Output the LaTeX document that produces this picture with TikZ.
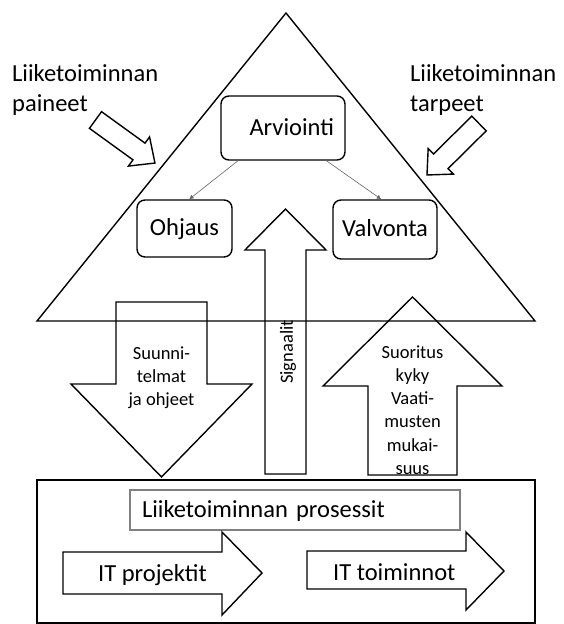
\documentclass[tikz,border=0pt]{standalone}
\usepackage{fontspec}
\setmainfont{Carlito}
\usetikzlibrary{arrows.meta}
\begin{document}
\begin{tikzpicture}[x=1pt,y=-1pt,
  outline/.style={draw=black,line width=1.4pt,line join=miter},
  bigtext/.style={font=\fontsize{24.5}{29.4}\selectfont},
  smalltext/.style={font=\fontsize{18.5}{23.2}\selectfont},
  roundbox/.style={outline,rounded corners=8pt,fill=white,bigtext,inner sep=0pt,
    text height=17pt,text depth=2.5pt},
  link/.style={draw=black!60,line width=0.6pt,-{Latex[length=4.5pt,width=4.5pt]}},
  label/.style={inner sep=0pt,text=black}]

% page
\path[use as bounding box,fill=white] (0,0) rectangle (563,624);

% side pressure arrows
\begin{scope}[shift={(95.5,120)},rotate=-35.9]
  \draw[outline] (0,-10.3) -- (53.7,-10.3) -- (53.7,-18) -- (73.4,0)
    -- (53.7,18) -- (53.7,10.3) -- (0,10.3) -- cycle;
\end{scope}
\begin{scope}[shift={(479,123.5)},rotate=-135.3]
  \draw[outline] (0,-10.3) -- (53.7,-10.3) -- (53.7,-18) -- (73.2,0)
    -- (53.7,18) -- (53.7,10.3) -- (0,10.3) -- cycle;
\end{scope}
\node[label,bigtext,align=left,anchor=west] (paineet) at (12,90) {Liiketoiminnan\\paineet};
\node[label,bigtext,align=left,anchor=west] (tarpeet) at (410,90) {Liiketoiminnan\\tarpeet};

% vertical block arrows
\draw[outline] (116,302) -- (207,302) -- (207,384) -- (252,384) -- (161.5,477)
  -- (71,384) -- (116,384) -- cycle;
\draw[outline] (265,474) -- (306,474) -- (306,250) -- (326,250) -- (285.5,209)
  -- (245,250) -- (265,250) -- cycle;
\draw[outline] (368,475) -- (457,475) -- (457,386) -- (502,386) -- (412.5,297)
  -- (323,386) -- (368,386) -- cycle;
\node[label,smalltext,align=center] (suunn) at (161.5,378) {Suunni-\\telmat\\ja ohjeet};
\node[label,smalltext,rotate=90] (signaalit) at (288,352) {Signaalit};
\node[label,smalltext,align=center] (suoritus) at (412.5,410) {Suoritus\\kyky\\Vaati-\\musten\\mukai-\\suus};

% management triangle
\draw[outline] (286,13) -- (535,321) -- (37,321) -- cycle;

% management boxes
\node[roundbox,minimum width=124pt,minimum height=64pt,text width=102pt,align=right]
  (arv) at (283,128) {Arviointi};
\node[roundbox,minimum width=95pt,minimum height=57pt] (ohj) at (184.5,228.5) {Ohjaus};
\node[roundbox,minimum width=104pt,minimum height=59pt] (val) at (385,229.5) {Valvonta};
\draw[link] (arv.216) -- (ohj.81);
\draw[link] (arv.323) -- (val.97.5);

% operational layer
\node[outline,minimum width=498pt,minimum height=143pt,inner sep=0pt] (ops) at (286,551.5) {};
\node[draw=black!50,line width=1.2pt,minimum width=330pt,minimum height=40pt,inner sep=0pt,
  text width=306pt,align=left,bigtext,text height=17pt,text depth=2.5pt]
  (proc) at (295,510) {Liiketoiminnan prosessit};
\draw[outline] (63,552) -- (222,552) -- (222,532) -- (262,573) -- (222,615)
  -- (222,594) -- (63,594) -- cycle;
\draw[outline] (307,551) -- (466,551) -- (466,532) -- (504,571) -- (466,610)
  -- (466,589) -- (307,589) -- cycle;
\node[label,bigtext,anchor=base west] (itproj) at (98,581) {IT projektit};
\node[label,bigtext,anchor=base west] (ittoim) at (333,580) {IT toiminnot};
\end{tikzpicture}
\end{document}
